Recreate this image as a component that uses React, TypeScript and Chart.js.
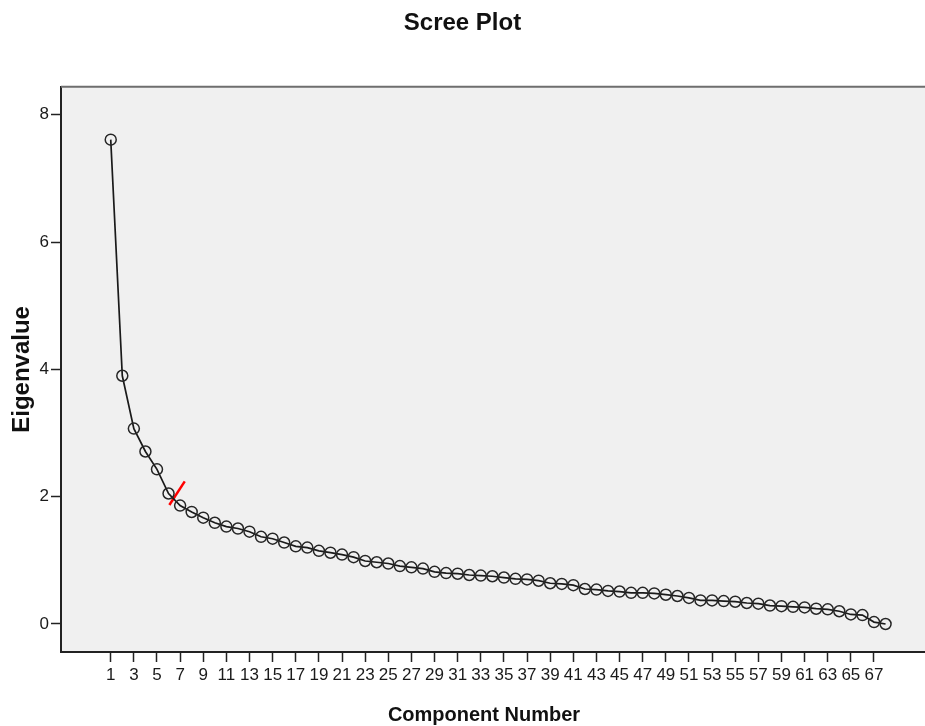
import React, { useEffect, useRef } from "react";
import { Chart, registerables } from "chart.js";

Chart.register(...registerables);

const components = [
  1, 2, 3, 4, 5, 6, 7, 8, 9, 10, 11, 12, 13, 14, 15, 16, 17, 18, 19, 20,
  21, 22, 23, 24, 25, 26, 27, 28, 29, 30, 31, 32, 33, 34, 35, 36, 37, 38, 39, 40,
  41, 42, 43, 44, 45, 46, 47, 48, 49, 50, 51, 52, 53, 54, 55, 56, 57, 58, 59, 60,
  61, 62, 63, 64, 65, 66, 67, 68,
];

const eigenvalues = [
  7.61, 3.9, 3.07, 2.71, 2.43, 2.05, 1.86, 1.76, 1.67, 1.59, 1.53, 1.5, 1.45, 1.37, 1.34, 1.28, 1.22, 1.2, 1.15, 1.12,
  1.09, 1.05, 0.99, 0.97, 0.95, 0.91, 0.89, 0.87, 0.82, 0.8, 0.79, 0.77, 0.76, 0.75, 0.73, 0.71, 0.7, 0.68, 0.64, 0.63,
  0.61, 0.55, 0.54, 0.52, 0.51, 0.49, 0.49, 0.48, 0.46, 0.44, 0.41, 0.37, 0.37, 0.36, 0.35, 0.33, 0.32, 0.29, 0.28, 0.27,
  0.26, 0.24, 0.23, 0.2, 0.15, 0.14, 0.03, 0.0,
];

const xTickValues = [
  1, 3, 5, 7, 9, 11, 13, 15, 17, 19, 21, 23, 25, 27, 29, 31, 33, 35, 37, 39, 41, 43, 45, 47, 49, 51, 53, 55, 57, 59, 61, 63, 65, 67,
];
const yTickValues = [0, 2, 4, 6, 8];

// red elbow marker segment (x, y in data units)
const elbowX = [6.07, 7.4];
const elbowY = [1.87, 2.24];

const FONT = '"Liberation Sans", Arial, sans-serif';

export default function App() {
  const ref = useRef<HTMLCanvasElement | null>(null);

  useEffect(() => {
    if (!ref.current) return;
    const bgPlugin = {
      id: "plotBg",
      beforeDraw(chart: any) {
        const { ctx, chartArea } = chart;
        ctx.save();
        ctx.fillStyle = "#f0f0f0";
        ctx.fillRect(chartArea.left, chartArea.top, chartArea.right - chartArea.left, chartArea.bottom - chartArea.top);
        ctx.restore();
      },
      afterDraw(chart: any) {
        const { ctx, chartArea } = chart;
        ctx.save();
        ctx.strokeStyle = "#6e6e6e";
        ctx.lineWidth = 2;
        ctx.beginPath();
        ctx.moveTo(chartArea.left, chartArea.top);
        ctx.lineTo(chartArea.right, chartArea.top);
        ctx.stroke();
        ctx.fillStyle = "#111";
        ctx.font = `bold 20px ${FONT}`;
        ctx.textAlign = "center";
        ctx.textBaseline = "middle";
        ctx.fillText("Component Number", 484, 715);
        ctx.restore();
      },
    };

    const chart = new Chart(ref.current, {
      type: "line",
      data: {
        datasets: [
          {
            data: components.map((c, i) => ({ x: c, y: eigenvalues[i] })),
            borderColor: "#1a1a1a",
            borderWidth: 1.7,
            pointRadius: 5.5,
            pointBorderWidth: 1.5,
            pointBorderColor: "#262626",
            pointBackgroundColor: "rgba(0,0,0,0)",
            tension: 0,
            fill: false,
          },
          {
            data: elbowX.map((x, i) => ({ x, y: elbowY[i] })),
            borderColor: "#ff0000",
            borderWidth: 2.5,
            pointRadius: 0,
            tension: 0,
            fill: false,
          },
        ],
      },
      plugins: [bgPlugin],
      options: {
        animation: false,
        responsive: false,
        devicePixelRatio: 1,
        layout: { padding: 0, autoPadding: false },
        plugins: {
          legend: { display: false },
          tooltip: { enabled: false },
          title: {
            display: true,
            text: "Scree Plot",
            color: "#111",
            font: { family: FONT, size: 24, weight: "bold", lineHeight: 1.2 },
            padding: { top: 9, bottom: 49 },
          },
        },
        scales: {
          x: {
            type: "linear",
            min: -3.3,
            max: 71.41,
            afterBuildTicks: (axis: any) => {
              axis.ticks = xTickValues.map((v) => ({ value: v }));
            },
            afterFit: (scale: any) => {
              scale.height = 74;
              scale.paddingLeft = 0;
              scale.paddingRight = 0;
            },
            ticks: {
              autoSkip: false,
              maxRotation: 0,
              minRotation: 0,
              color: "#1a1a1a",
              padding: 3,
              font: { family: FONT, size: 17 },
              callback: (v: any) => String(v),
            },
            grid: {
              display: true,
              drawOnChartArea: false,
              drawTicks: true,
              tickLength: 10,
              tickColor: "#222",
              tickWidth: 1.5,
            },
            border: { display: true, color: "#222", width: 2 },
            title: { display: false },
          },
          y: {
            type: "linear",
            min: -0.44,
            max: 8.44,
            afterBuildTicks: (axis: any) => {
              axis.ticks = yTickValues.map((v) => ({ value: v }));
            },
            afterFit: (scale: any) => {
              scale.width = 61;
              scale.paddingTop = 0;
              scale.paddingBottom = 0;
            },
            ticks: {
              color: "#1a1a1a",
              padding: 2,
              font: { family: FONT, size: 17 },
              callback: (v: any) => String(v),
            },
            grid: {
              display: true,
              drawOnChartArea: false,
              drawTicks: true,
              tickLength: 10,
              tickColor: "#222",
              tickWidth: 1.5,
            },
            border: { display: true, color: "#222", width: 2 },
            title: {
              display: true,
              text: "Eigenvalue",
              color: "#111",
              font: { family: FONT, size: 24, weight: "bold", lineHeight: 1.2 },
              padding: { top: 8, bottom: 0 },
            },
          },
        },
      },
    });
    return () => chart.destroy();
  }, []);

  return (
    <div style={{ position: "fixed", left: 0, top: 0, width: 925, height: 726, background: "#fff" }}>
      <canvas ref={ref} width={925} height={726} style={{ display: "block" }} />
    </div>
  );
}
